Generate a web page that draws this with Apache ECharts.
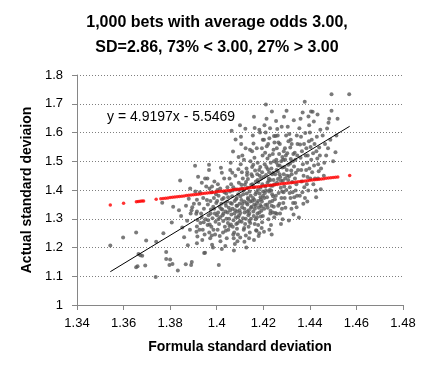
<!DOCTYPE html>
<html>
<head>
<meta charset="utf-8">
<script src="https://cdn.jsdelivr.net/npm/echarts@6/dist/echarts.min.js"></script>
<style>html,body{margin:0;padding:0;background:#fff}#c{width:434px;height:376px}</style>
</head>
<body>
<div id="c"></div>
<script>
// Gray points: [formula SD, actual SD] for each bet sample
const bets = [
[1.3543,1.207],[1.3598,1.235],[1.3654,1.252],[1.3697,1.224],[1.3664,1.177],[1.3672,1.173],[1.3680,1.171],[1.3654,1.131],[1.3660,1.135],[1.3693,1.137],[1.3738,1.097],[1.3740,1.220],[1.3771,1.250],[1.3783,1.184],[1.3783,1.160],[1.3800,1.158],[1.3797,1.139],[1.3766,1.356],[1.3807,1.287],[1.3813,1.342],[1.3810,1.143],
[1.3833,1.120],[1.3847,1.310],[1.3843,1.433],[1.3852,1.270],[1.3838,1.330],[1.3860,1.236],[1.3867,1.142],[1.3873,1.293],[1.3868,1.345],[1.3880,1.370],[1.3885,1.262],[1.3890,1.139],[1.3893,1.150],[1.3888,1.318],[1.3876,1.208],[1.3895,1.340],[1.3892,1.330],[1.3886,1.405],
[1.3907,1.484],[1.3915,1.366],[1.3915,1.325],[1.3912,1.317],[1.3918,1.296],[1.3915,1.273],[1.3913,1.255],[1.3917,1.238],[1.3915,1.215],[1.3920,1.446],[1.3925,1.352],[1.3930,1.285],[1.3935,1.305],[1.3928,1.392],[1.3940,1.262],[1.3946,1.181],[1.3950,1.182],[1.3945,1.335],[1.3948,1.245],[1.3942,1.372],[1.3938,1.226],[1.3952,1.298],[1.3955,1.412],[1.3950,1.440],[1.3933,1.318],
[1.3967,1.488],[1.3967,1.470],[1.3960,1.440],[1.3962,1.350],[1.3965,1.312],[1.3970,1.280],[1.3968,1.252],[1.3972,1.232],[1.3975,1.332],[1.3973,1.362],[1.3978,1.392],[1.3980,1.412],[1.3982,1.302],[1.3977,1.272],[1.3985,1.342],[1.3988,1.372],[1.3984,1.200],[1.3990,1.430],[1.3986,1.262],[1.3992,1.318],[1.3995,1.290],[1.3998,1.355],[1.3993,1.245],[1.3997,1.385],[1.3980,1.210],[1.3963,1.295],[1.3974,1.318],
[1.4009,1.139],[1.4018,1.477],[1.4022,1.460],[1.4005,1.420],[1.4003,1.400],[1.4008,1.380],[1.4002,1.362],[1.4012,1.342],[1.4006,1.322],[1.4015,1.305],[1.4010,1.282],[1.4004,1.262],[1.4013,1.240],[1.4016,1.222],[1.4020,1.352],[1.4025,1.312],[1.4028,1.292],[1.4024,1.332],[1.4030,1.372],[1.4027,1.252],[1.4033,1.392],[1.4035,1.272],[1.4032,1.440],[1.4038,1.325],[1.4040,1.345],[1.4042,1.300],[1.4045,1.360],[1.4048,1.285],[1.4043,1.232],[1.4046,1.410],[1.4037,1.205],[1.4050,1.262],[1.4052,1.338],[1.4049,1.375],[1.4022,1.195],[1.4015,1.405],
[1.4064,1.606],[1.4081,1.576],[1.4070,1.534],[1.4060,1.495],[1.4058,1.470],[1.4055,1.440],[1.4062,1.420],[1.4057,1.395],[1.4066,1.378],[1.4060,1.355],[1.4068,1.335],[1.4063,1.315],[1.4072,1.295],[1.4069,1.272],[1.4075,1.252],[1.4073,1.232],[1.4078,1.212],[1.4080,1.450],[1.4083,1.402],[1.4077,1.362],[1.4085,1.345],[1.4088,1.325],[1.4082,1.305],[1.4090,1.285],[1.4087,1.265],[1.4092,1.385],[1.4095,1.425],[1.4093,1.472],[1.4098,1.352],[1.4096,1.312],[1.4099,1.292],[1.4091,1.245],[1.4094,1.515],[1.4086,1.372],[1.4074,1.190],[1.4067,1.460],[1.4079,1.330],[1.4097,1.400],[1.4089,1.222],[1.4061,1.280],[1.4071,1.410],[1.4084,1.282],
[1.4100,1.625],[1.4123,1.613],[1.4105,1.560],[1.4110,1.520],[1.4103,1.490],[1.4108,1.462],[1.4112,1.440],[1.4106,1.418],[1.4115,1.398],[1.4102,1.378],[1.4118,1.360],[1.4109,1.340],[1.4120,1.322],[1.4113,1.302],[1.4122,1.282],[1.4116,1.262],[1.4125,1.242],[1.4119,1.220],[1.4128,1.475],[1.4130,1.452],[1.4126,1.428],[1.4133,1.408],[1.4129,1.388],[1.4135,1.368],[1.4132,1.350],[1.4138,1.330],[1.4136,1.312],[1.4140,1.292],[1.4137,1.272],[1.4142,1.252],[1.4145,1.500],[1.4143,1.540],[1.4148,1.418],[1.4146,1.380],[1.4150,1.342],[1.4147,1.300],[1.4149,1.455],[1.4139,1.232],[1.4127,1.200],[1.4104,1.585],[1.4117,1.505],[1.4124,1.545],[1.4134,1.438],[1.4141,1.395],[1.4111,1.352],[1.4131,1.325],[1.4144,1.360],[1.4107,1.290],[1.4121,1.418],[1.4101,1.235],
[1.4163,1.616],[1.4183,1.610],[1.4160,1.655],[1.4155,1.590],[1.4158,1.562],[1.4152,1.535],[1.4162,1.512],[1.4157,1.488],[1.4165,1.468],[1.4153,1.448],[1.4168,1.430],[1.4160,1.410],[1.4170,1.392],[1.4156,1.372],[1.4173,1.355],[1.4164,1.335],[1.4175,1.318],[1.4167,1.298],[1.4160,1.226],[1.4178,1.278],[1.4171,1.258],[1.4180,1.240],[1.4176,1.495],[1.4182,1.470],[1.4185,1.450],[1.4179,1.428],[1.4188,1.408],[1.4184,1.388],[1.4190,1.368],[1.4187,1.348],[1.4192,1.328],[1.4189,1.308],[1.4195,1.288],[1.4193,1.268],[1.4197,1.520],[1.4194,1.545],[1.4198,1.575],[1.4186,1.600],[1.4196,1.420],[1.4199,1.380],[1.4191,1.440],[1.4181,1.338],[1.4174,1.455],[1.4166,1.385],[1.4159,1.310],[1.4172,1.545],[1.4154,1.420],[1.4169,1.260],[1.4177,1.400],[1.4187,1.480],[1.4194,1.360],[1.4161,1.350],[1.4198,1.310],[1.4183,1.250],[1.4203,1.255],
[1.4211,1.697],[1.4214,1.648],[1.4237,1.673],[1.4205,1.625],[1.4210,1.600],[1.4203,1.575],[1.4215,1.552],[1.4208,1.530],[1.4218,1.510],[1.4206,1.490],[1.4220,1.472],[1.4212,1.452],[1.4223,1.432],[1.4209,1.412],[1.4225,1.395],[1.4216,1.375],[1.4228,1.358],[1.4219,1.338],[1.4230,1.318],[1.4222,1.298],[1.4233,1.278],[1.4226,1.262],[1.4236,1.245],[1.4232,1.495],[1.4235,1.475],[1.4238,1.455],[1.4231,1.435],[1.4240,1.415],[1.4234,1.398],[1.4242,1.378],[1.4239,1.362],[1.4245,1.342],[1.4241,1.322],[1.4247,1.305],[1.4244,1.540],[1.4248,1.565],[1.4246,1.588],[1.4229,1.615],[1.4249,1.420],[1.4243,1.460],[1.4227,1.520],[1.4217,1.350],[1.4207,1.390],[1.4224,1.440],[1.4213,1.480],[1.4221,1.560],[1.4236,1.345],[1.4202,1.445],[1.4228,1.400],[1.4250,1.368],[1.4204,1.335],[1.4246,1.500],
[1.4258,1.317],[1.4289,1.655],[1.4300,1.676],[1.4255,1.640],[1.4260,1.612],[1.4253,1.588],[1.4265,1.565],[1.4258,1.545],[1.4268,1.525],[1.4256,1.505],[1.4270,1.485],[1.4262,1.465],[1.4273,1.445],[1.4259,1.425],[1.4275,1.408],[1.4266,1.390],[1.4278,1.372],[1.4269,1.352],[1.4280,1.335],[1.4272,1.318],[1.4283,1.298],[1.4276,1.282],[1.4285,1.505],[1.4282,1.478],[1.4288,1.455],[1.4284,1.432],[1.4290,1.412],[1.4287,1.392],[1.4292,1.372],[1.4286,1.355],[1.4295,1.338],[1.4293,1.545],[1.4297,1.520],[1.4298,1.590],[1.4279,1.620],[1.4294,1.440],[1.4299,1.400],[1.4263,1.438],[1.4277,1.500],[1.4254,1.380],[1.4271,1.560],[1.4291,1.480],[1.4257,1.470],[1.4281,1.395],[1.4264,1.345],
[1.4331,1.643],[1.4310,1.294],[1.4343,1.340],[1.4333,1.375],[1.4305,1.620],[1.4312,1.595],[1.4308,1.570],[1.4316,1.548],[1.4303,1.528],[1.4318,1.508],[1.4307,1.488],[1.4320,1.468],[1.4311,1.448],[1.4324,1.428],[1.4314,1.410],[1.4326,1.392],[1.4317,1.372],[1.4328,1.355],[1.4321,1.335],[1.4330,1.315],[1.4335,1.530],[1.4338,1.505],[1.4332,1.482],[1.4340,1.460],[1.4336,1.440],[1.4342,1.420],[1.4339,1.398],[1.4345,1.380],[1.4347,1.560],[1.4344,1.590],[1.4349,1.470],[1.4327,1.500],[1.4302,1.450],[1.4313,1.390],[1.4337,1.355],[1.4322,1.560],[1.4346,1.520],
[1.4353,1.304],[1.4360,1.648],[1.4369,1.670],[1.4378,1.707],[1.4394,1.656],[1.4355,1.615],[1.4362,1.585],[1.4358,1.558],[1.4366,1.535],[1.4360,1.512],[1.4370,1.490],[1.4363,1.470],[1.4373,1.450],[1.4365,1.430],[1.4376,1.410],[1.4368,1.392],[1.4379,1.372],[1.4372,1.352],[1.4382,1.520],[1.4385,1.545],[1.4380,1.598],[1.4388,1.495],[1.4384,1.470],[1.4390,1.445],[1.4387,1.420],[1.4393,1.398],[1.4396,1.570],[1.4391,1.520],[1.4398,1.475],[1.4357,1.380],[1.4375,1.560],[1.4397,1.625],[1.4389,1.360],
[1.4405,1.673],[1.4412,1.672],[1.4433,1.663],[1.4417,1.638],[1.4447,1.403],[1.4400,1.600],[1.4408,1.575],[1.4403,1.550],[1.4414,1.528],[1.4406,1.505],[1.4418,1.485],[1.4410,1.462],[1.4422,1.440],[1.4415,1.420],[1.4425,1.398],[1.4420,1.560],[1.4428,1.535],[1.4432,1.510],[1.4430,1.585],[1.4436,1.490],[1.4440,1.548],[1.4438,1.465],[1.4443,1.520],[1.4445,1.610],[1.4427,1.375],[1.4448,1.475],[1.4402,1.440],[1.4435,1.440],
[1.4474,1.614],[1.4480,1.634],[1.4483,1.648],[1.4493,1.733],[1.4493,1.676],[1.4519,1.648],[1.4514,1.590],[1.4510,1.531],[1.4569,1.733],[1.4465,1.560],[1.4470,1.520],[1.4488,1.575],[1.4462,1.495],[1.4478,1.545],[1.4455,1.590],[1.4500,1.500],[1.4460,1.450],
[1.3902,1.352],[1.3908,1.395],[1.3936,1.425],[1.3958,1.365],[1.3961,1.278],[1.3979,1.242],[1.3989,1.335],[1.3944,1.288],[1.3926,1.262],[1.3969,1.405],
[1.4001,1.312],[1.4007,1.298],[1.4019,1.335],[1.4023,1.368],[1.4029,1.318],[1.4036,1.355],[1.4041,1.388],[1.4047,1.322],[1.4053,1.300],[1.4058,1.330],[1.4065,1.352],[1.4069,1.398],[1.4076,1.318],[1.4083,1.368],[1.4088,1.345],[1.4092,1.305],[1.4098,1.330],[1.4055,1.275],[1.4039,1.258],[1.4071,1.245],
[1.4102,1.320],[1.4106,1.365],[1.4114,1.385],[1.4119,1.335],[1.4125,1.300],[1.4129,1.355],[1.4134,1.372],[1.4140,1.318],[1.4147,1.338],[1.4152,1.362],[1.4157,1.325],[1.4162,1.365],[1.4168,1.345],[1.4173,1.305],[1.4178,1.362],[1.4183,1.322],[1.4188,1.375],[1.4193,1.342],[1.4199,1.395],[1.4109,1.405],[1.4131,1.462],[1.4152,1.480],[1.4176,1.435],[1.4195,1.462],[1.4163,1.282],[1.4118,1.268],[1.4144,1.285],
[1.4204,1.372],[1.4212,1.398],[1.4218,1.425],[1.4225,1.462],[1.4232,1.415],[1.4238,1.385],[1.4244,1.435],[1.4251,1.455],[1.4257,1.495],[1.4263,1.485],[1.4270,1.455],[1.4276,1.432],[1.4282,1.515],[1.4288,1.535],[1.4294,1.505],[1.4301,1.470],[1.4307,1.435],[1.4315,1.492],[1.4322,1.455],[1.4329,1.525],[1.4241,1.525],[1.4226,1.580],[1.4262,1.590],[1.4318,1.575],[1.4209,1.348],[1.4231,1.328],[1.4252,1.320]
];

// Red points: formula SD vs. expected actual SD
const redFormula = [1.3543,1.3600,1.3655,1.3663,1.3671,1.3679,1.3686,1.3740,
1.376,1.377,1.378,1.379,1.380,1.381,1.382,1.383,1.384,1.385,1.386,1.387,1.388,1.389,1.390,1.391,1.392,1.393,1.394,1.395,1.396,1.397,1.398,1.399,1.400,
1.401,1.402,1.403,1.404,1.405,1.406,1.407,1.408,1.409,1.410,1.411,1.412,1.413,1.414,1.415,1.416,1.417,1.418,1.419,1.420,
1.421,1.422,1.423,1.424,1.425,1.426,1.427,1.428,1.429,1.430,1.431,1.432,1.433,1.434,1.435,1.436,1.437,1.438,1.439,1.440,
1.441,1.442,1.443,1.444,1.445,1.446,1.447,1.448,1.449,1.450,1.451,1.452,1.4571];
const redActual = [1.3480,1.3535,1.3590,1.3598,1.3606,1.3614,1.3621,1.3675,
1.3695,1.3705,1.3715,1.3725,1.3735,1.3745,1.3755,1.3765,1.3775,1.3785,1.3795,1.3805,1.3815,1.3825,1.3835,1.3845,1.3855,1.3865,1.3875,1.3885,1.3895,1.3905,1.3915,1.3925,1.3935,
1.3945,1.3955,1.3965,1.3975,1.3985,1.3995,1.4005,1.4015,1.4025,1.4035,1.4045,1.4055,1.4065,1.4075,1.4085,1.4095,1.4105,1.4115,1.4125,1.4135,
1.4145,1.4155,1.4165,1.4175,1.4185,1.4195,1.4205,1.4215,1.4225,1.4235,1.4245,1.4255,1.4265,1.4275,1.4285,1.4295,1.4305,1.4315,1.4325,1.4335,
1.4345,1.4355,1.4365,1.4375,1.4385,1.4395,1.4405,1.4415,1.4425,1.4435,1.4445,1.4455,1.4505];

// Linear trendline (Excel): y = 4.9197x - 5.5469, spanning the data's x range
const trendSlope = 4.9197;
const trendIntercept = -5.5469;
const trendXRange = [1.3543, 1.4571];

const xTicks = {min: 1.34, max: 1.48, interval: 0.02};
const yTicks = {min: 1.0, max: 1.8, interval: 0.1};

const chart = echarts.init(document.getElementById('c'), null, {renderer: 'canvas'});
const FONT = '"Liberation Sans", Arial, sans-serif';
const redData = redFormula.map((x, i) => [x, redActual[i]]);
const trendData = trendXRange.map(x => [x, trendSlope * x + trendIntercept]);

chart.setOption({
  animation: false,
  backgroundColor: '#ffffff',
  title: {
    text: '1,000 bets with average odds 3.00,\nSD=2.86, 73% < 3.00, 27% > 3.00',
    left: 'center',
    top: 10,
    padding: 0,
    textStyle: {fontFamily: FONT, fontSize: 16, fontWeight: 'bold', color: '#000', lineHeight: 25}
  },
  grid: {left: 77, right: 31, top: 75, bottom: 71, containLabel: false},
  xAxis: {
    type: 'value',
    min: xTicks.min, max: xTicks.max, interval: xTicks.interval,
    name: 'Formula standard deviation',
    nameLocation: 'middle',
    nameGap: 35,
    nameTextStyle: {fontFamily: FONT, fontSize: 14, fontWeight: 'bold', color: '#000'},
    axisLine: {show: true, lineStyle: {color: '#868686', width: 1}},
    axisTick: {show: true, inside: false, length: 5, lineStyle: {color: '#868686'}},
    axisLabel: {fontFamily: FONT, fontSize: 13, color: '#000', margin: 12,
      formatter: v => String(+v.toFixed(2))},
    splitLine: {show: false}
  },
  yAxis: {
    type: 'value',
    min: yTicks.min, max: yTicks.max, interval: yTicks.interval,
    name: 'Actual standard deviaion',
    nameLocation: 'middle',
    nameGap: 42,
    nameTextStyle: {fontFamily: FONT, fontSize: 14, fontWeight: 'bold', color: '#000'},
    axisLine: {show: true, lineStyle: {color: '#868686', width: 1}},
    axisTick: {show: true, inside: false, length: 5, lineStyle: {color: '#868686'}},
    axisLabel: {fontFamily: FONT, fontSize: 13, color: '#000', margin: 14,
      formatter: v => String(+v.toFixed(1))},
    splitLine: {show: true, lineStyle: {color: '#7f7f7f', width: 1, type: [1, 2]}}
  },
  graphic: [{
    type: 'text',
    left: 107, top: 110,
    style: {text: 'y = 4.9197x - 5.5469', fontFamily: FONT, fontSize: 14, fill: '#000'}
  }],
  series: [
    {
      type: 'scatter', name: 'bets', data: bets,
      symbol: 'circle', symbolSize: 4,
      itemStyle: {color: '#595959'}, z: 2
    },
    {
      type: 'line', name: 'trend', data: trendData,
      symbol: 'none', lineStyle: {color: '#000', width: 1}, z: 3
    },
    {
      type: 'scatter', name: 'expected', data: redData,
      symbol: 'circle', symbolSize: 3.5,
      itemStyle: {color: '#ff0000'}, z: 4
    }
  ]
});
</script>
</body>
</html>
